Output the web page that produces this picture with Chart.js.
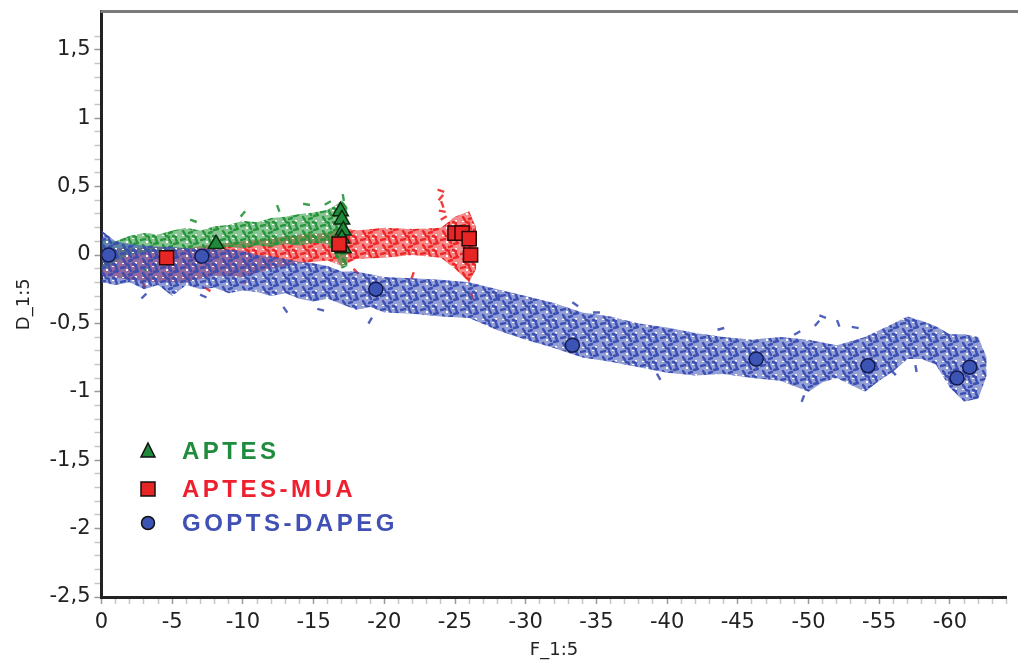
<!DOCTYPE html>
<html><head><meta charset="utf-8">
<script src="https://cdn.jsdelivr.net/npm/chart.js@4.4.1/dist/chart.umd.min.js"></script>
<style>html,body{margin:0;padding:0;background:#fff}#wrap{width:1018px;height:668px}</style>
</head><body><div id="wrap"><canvas id="c" width="1018" height="668"></canvas></div>
<script>
// ---------- DATA ----------
const seriesNames = ['APTES', 'APTES-MUA', 'GOPTS-DAPEG'];
const xTickLabels = ['0','-5','-10','-15','-20','-25','-30','-35','-40','-45','-50','-55','-60'];
const yTickLabels = ['1,5','1','0,5','0','-0,5','-1','-1,5','-2','-2,5'];

// marker points (F, D)
const aptesMarkX = [-8.1, -16.9, -17.0, -17.1, -17.0, -17.1];
const aptesMarkY = [0.08, 0.32, 0.26, 0.18, 0.12, 0.05];
const muaMarkX = [-4.6, -16.8, -25.0, -25.5, -26.0, -26.1];
const muaMarkY = [-0.02, 0.08, 0.16, 0.16, 0.12, 0.0];
const gopMarkX = [-0.5, -7.1, -19.4, -33.3, -46.3, -54.2, -60.5, -61.4];
const gopMarkY = [0.0, -0.01, -0.25, -0.66, -0.76, -0.81, -0.90, -0.82];

// raw data clouds: upper / lower envelopes
const aptesCloudX = [0, -1, -2, -3, -4, -5, -6, -7, -8, -9, -10, -11, -12, -13, -14, -15, -16, -16.5, -17, -17.4];
const aptesCloudHi = [0.12, 0.10, 0.14, 0.16, 0.15, 0.18, 0.20, 0.18, 0.21, 0.22, 0.25, 0.24, 0.27, 0.28, 0.30, 0.31, 0.33, 0.36, 0.40, 0.35];
const aptesCloudLo = [-0.12, -0.05, 0.00, 0.02, 0.02, 0.03, 0.04, 0.05, 0.05, 0.06, 0.05, 0.07, 0.06, 0.08, 0.07, 0.09, 0.08, 0.00, -0.10, -0.08];

const muaCloudX = [0, -2, -4, -6, -8, -10, -12, -14, -16, -17, -18, -20, -22, -24, -25, -26, -26.5];
const muaCloudHi = [0.05, 0.05, 0.06, 0.05, 0.08, 0.10, 0.12, 0.15, 0.16, 0.20, 0.18, 0.20, 0.19, 0.20, 0.28, 0.32, 0.20];
const muaCloudLo = [-0.15, -0.18, -0.20, -0.20, -0.15, -0.16, -0.10, -0.06, -0.04, -0.08, -0.03, -0.02, 0.00, -0.02, -0.10, -0.20, -0.10];

const gopCloudX = [0, -1, -2, -3, -4, -5, -6, -7, -8, -9, -10, -11, -12, -13, -14, -15, -16, -17, -18, -19, -20, -22, -24, -26, -28, -30, -32, -34, -36, -38, -40, -42, -44, -46, -48, -50, -51, -52, -53, -54, -55, -56, -57, -58, -59, -60, -61, -62, -62.6];
const gopCloudHi = [0.18, 0.10, 0.08, 0.07, 0.06, 0.06, 0.05, 0.05, 0.04, 0.04, 0.03, 0.00, -0.01, -0.03, -0.05, -0.06, -0.08, -0.12, -0.12, -0.14, -0.16, -0.17, -0.18, -0.20, -0.25, -0.30, -0.35, -0.42, -0.45, -0.50, -0.53, -0.57, -0.60, -0.62, -0.60, -0.62, -0.64, -0.66, -0.63, -0.60, -0.55, -0.50, -0.45, -0.48, -0.52, -0.58, -0.58, -0.60, -0.75];
const gopCloudLo = [-0.20, -0.22, -0.20, -0.25, -0.22, -0.30, -0.22, -0.25, -0.24, -0.28, -0.26, -0.27, -0.30, -0.28, -0.32, -0.34, -0.32, -0.36, -0.40, -0.38, -0.42, -0.43, -0.45, -0.46, -0.55, -0.62, -0.68, -0.75, -0.78, -0.82, -0.86, -0.88, -0.87, -0.90, -0.92, -1.00, -0.93, -0.90, -0.95, -1.00, -0.92, -0.85, -0.76, -0.76, -0.80, -0.97, -1.07, -1.05, -0.88];

// stray dashes
const aptesStrayX = [-6.5, -10.0, -12.5, -14.5, -16.0, -17.1, -3.0];
const aptesStrayY = [0.25, 0.30, 0.34, 0.37, 0.38, 0.42, -0.1];
const muaStrayX = [-24.0, -24.0, -24.1, -24.1, -24.2, -26.2, -18.0, -22.0, -7.5, -10.0, -3.0];
const muaStrayY = [0.47, 0.42, 0.37, 0.32, 0.27, -0.30, -0.12, -0.15, -0.25, -0.20, -0.22];
const gopStrayX = [-51.0, -50.6, -52.1, -53.3, -49.2, -57.6, -56.0, -49.6, -33.5, -35.0, -39.4, -43.8, -28.1, -3.0, -7.2, -13.0, -19.0, -15.5];
const gopStrayY = [-0.45, -0.50, -0.50, -0.53, -0.57, -0.83, -0.86, -1.05, -0.36, -0.42, -0.89, -0.54, -0.31, -0.30, -0.30, -0.40, -0.48, -0.40];

// ---------- STYLE ----------
const COL = { green: '40,150,60', red: '238,40,40', blue: '60,80,180' };
const pts = (xs, ys) => xs.map((x, i) => ({x, y: ys[i]}));

function makePattern(rgb) {
  const c = document.createElement('canvas');
  c.width = 20; c.height = 14;
  const g = c.getContext('2d');
  g.fillStyle = 'rgba(' + rgb + ',0.55)';
  g.fillRect(0, 0, 20, 14);
  g.clearRect(6, 3, 2, 2); g.clearRect(15, 10, 2, 2); g.clearRect(2, 11, 2, 1); g.clearRect(12, 0, 2, 1);
  g.strokeStyle = 'rgba(' + rgb + ',1)';
  g.lineWidth = 2.4; g.lineCap = 'round';
  const d = [[1,2,5,1],[9,1,11,5],[14,6,18,5],[3,7,5,10],[9,9,12,8],[16,1,17,4],[6,12,9,13],[13,12,16,13]];
  d.forEach(s => { g.beginPath(); g.moveTo(s[0], s[1]); g.lineTo(s[2], s[3]); g.stroke(); });
  return g.createPattern(c, 'repeat');
}

function band(xs, hi, lo, rgb, order) {
  return [
    { data: pts(xs, hi), fill: '+1', backgroundColor: makePattern(rgb), borderWidth: 0, pointRadius: 0, showLine: true, tension: 0, order },
    { data: pts(xs, lo), fill: false, borderWidth: 0, pointRadius: 0, showLine: true, tension: 0, order }
  ];
}
const rot = [20, -50, 70, 10, -30, 80, 45, -70, 35, 0, 60, -15, 85, -45, 25, 55, -60, 15];
function stray(xs, ys, rgb, order) {
  return { data: pts(xs, ys), showLine: false, pointStyle: 'line', pointRadius: 3.5, pointBorderWidth: 2.4,
    pointBorderColor: 'rgba(' + rgb + ',0.9)', pointRotation: rot.slice(0, xs.length), order };
}

const datasets = [
  { label: seriesNames[2], data: pts(gopMarkX, gopMarkY), showLine: false, pointStyle: 'circle', pointRadius: 7,
    pointBackgroundColor: '#3c55b4', pointBorderColor: '#141a50', pointBorderWidth: 1.5, order: 0 },
  { label: seriesNames[1], data: pts(muaMarkX, muaMarkY), showLine: false, pointStyle: 'rect', pointRadius: 10,
    pointBackgroundColor: '#e82525', pointBorderColor: '#2a0808', pointBorderWidth: 1.5, order: 1 },
  { label: seriesNames[0], data: pts(aptesMarkX, aptesMarkY), showLine: false, pointStyle: 'triangle', pointRadius: 9,
    pointBackgroundColor: '#1e8a3a', pointBorderColor: '#0a2a10', pointBorderWidth: 1.5, order: 2 },
  ...band(gopCloudX, gopCloudHi, gopCloudLo, COL.blue, 3),
  stray(gopStrayX, gopStrayY, COL.blue, 3),
  ...band(aptesCloudX, aptesCloudHi, aptesCloudLo, COL.green, 4),
  stray(aptesStrayX, aptesStrayY, COL.green, 4),
  ...band(muaCloudX, muaCloudHi, muaCloudLo, COL.red, 5),
  stray(muaStrayX, muaStrayY, COL.red, 5)
];

const isMult = (v, m) => Math.abs(v / m - Math.round(v / m)) < 1e-6;

const frame = {
  id: 'frame',
  afterDraw(chart) {
    const {ctx, chartArea: a} = chart;
    ctx.save();
    ctx.strokeStyle = '#7a7a7a'; ctx.lineWidth = 3;
    ctx.beginPath(); ctx.moveTo(a.left - 1, a.top); ctx.lineTo(1018, a.top); ctx.stroke();
    const items = [
      {name: seriesNames[0], color: '#1e8c3c', shape: 'tri', y: 451},
      {name: seriesNames[1], color: '#ee2030', shape: 'sq', y: 489},
      {name: seriesNames[2], color: '#4050b4', shape: 'circ', y: 523}
    ];
    items.forEach(it => {
      const mx = 148, my = it.y;
      ctx.lineWidth = 1.5; ctx.strokeStyle = '#111';
      ctx.beginPath();
      if (it.shape === 'tri') {
        ctx.fillStyle = '#1e8a3a';
        ctx.moveTo(mx, my - 8); ctx.lineTo(mx + 7, my + 6); ctx.lineTo(mx - 7, my + 6); ctx.closePath();
      } else if (it.shape === 'sq') {
        ctx.fillStyle = '#e82525';
        ctx.rect(mx - 7, my - 7, 14, 14);
      } else {
        ctx.fillStyle = '#3c55b4';
        ctx.arc(mx, my, 6.5, 0, Math.PI * 2);
      }
      ctx.fill(); ctx.stroke();
      ctx.font = 'bold 24px "Liberation Sans", Arial, sans-serif';
      try { ctx.letterSpacing = '3.5px'; } catch (e) {}
      ctx.textBaseline = 'middle'; ctx.textAlign = 'left';
      ctx.fillStyle = it.color;
      ctx.fillText(it.name, 182, my + 1);
      try { ctx.letterSpacing = '0px'; } catch (e) {}
    });
    ctx.restore();
  }
};

new Chart(document.getElementById('c'), {
  type: 'line',
  data: { datasets },
  plugins: [frame],
  options: {
    responsive: false, animation: false, devicePixelRatio: 1,
    layout: { padding: { left: 0, top: 9, right: 2, bottom: 0 } },
    plugins: { legend: { display: false }, tooltip: { enabled: false } },
    elements: { line: { borderWidth: 0 } },
    scales: {
      x: {
        type: 'linear', reverse: true, min: -64, max: 0,
        afterFit: s => { s.height = 71; s.paddingLeft = 0; s.paddingRight = 0; },
        border: { display: true, color: '#222', width: 3 },
        grid: { drawOnChartArea: false, drawTicks: true, tickLength: 7,
          tickColor: c => isMult(c.tick.value, 5) ? '#999' : '#c4c4c4', tickWidth: 1.5 },
        ticks: { stepSize: 1, autoSkip: false, maxRotation: 0, padding: 6, color: '#222',
          font: { family: 'DejaVu Sans', size: 21 },
          callback: v => isMult(v, 5) ? xTickLabels[Math.round(-v / 5)] : '' },
        title: { display: true, text: 'F_1:5', color: '#222', font: { family: 'DejaVu Sans', size: 18 }, padding: { top: 0, bottom: 7 } }
      },
      y: {
        type: 'linear', min: -2.5, max: 1.78,
        afterFit: s => { s.width = 101.5; s.paddingTop = 0; s.paddingBottom = 0; },
        border: { display: true, color: '#222', width: 3 },
        grid: { drawOnChartArea: false, drawTicks: true, tickLength: 7,
          tickColor: c => isMult(c.tick.value, 0.1) ? (isMult(c.tick.value, 0.5) ? '#999' : '#c4c4c4') : 'rgba(0,0,0,0)', tickWidth: 1.5 },
        ticks: { stepSize: 0.1, autoSkip: false, padding: 4, color: '#222',
          font: { family: 'DejaVu Sans', size: 21 },
          callback: v => isMult(v, 0.5) ? yTickLabels[Math.round((1.5 - v) / 0.5)] : '' },
        title: { display: true, text: 'D_1:5', color: '#222', font: { family: 'DejaVu Sans', size: 18 }, padding: { top: 14, bottom: 0 } }
      }
    }
  }
});
</script></body></html>
